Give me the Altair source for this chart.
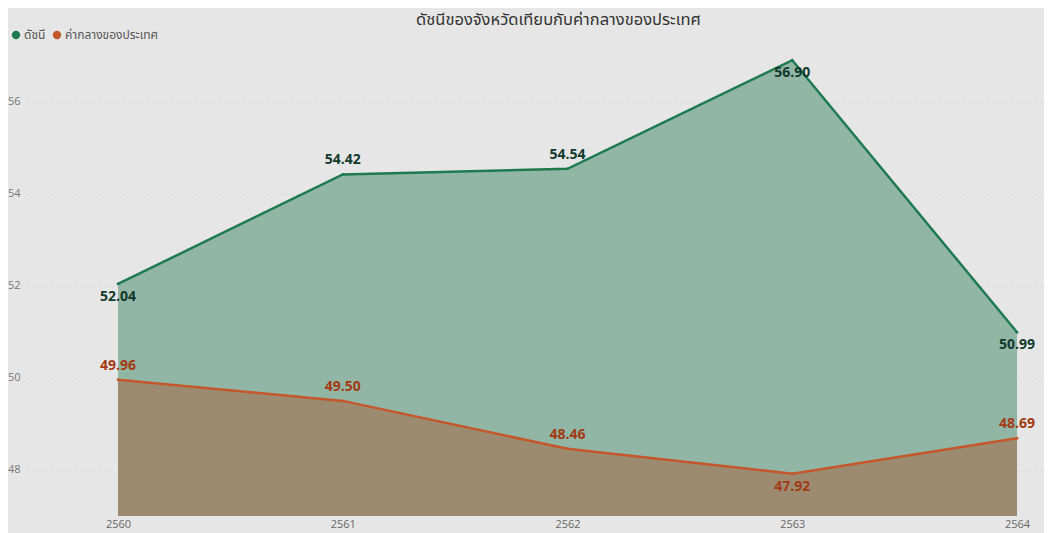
import altair as alt
import pandas as pd

years = [2560, 2561, 2562, 2563, 2564]
index_vals = [52.04, 54.42, 54.54, 56.90, 50.99]
national_vals = [49.96, 49.50, 48.46, 47.92, 48.69]
series_names = ["ดัชนี", "ค่ากลางของประเทศ"]
title_text = "ดัชนีของจังหวัดเทียบกับค่ากลางของประเทศ"
y_ticks = [48, 50, 52, 54, 56]

# label placement per point (layout only)
index_label_side = ["below", "above", "above", "below", "below"]
national_label_side = ["above", "above", "above", "below", "above"]

BASE = 47
GREEN = "#1f7a50"
ORANGE = "#c4572b"
GREEN_FILL = "#92b6a6"
ORANGE_FILL = "#9c8b71"
BG = "#e6e6e6"
FONT = "Segoe UI, Open Sans, Noto Sans Thai, Noto Sans, sans-serif"

rows = []
for i, yr in enumerate(years):
    rows.append({"year": yr, "value": index_vals[i], "series": series_names[0],
                 "side": index_label_side[i], "base": BASE})
    rows.append({"year": yr, "value": national_vals[i], "series": series_names[1],
                 "side": national_label_side[i], "base": BASE})
df = pd.DataFrame(rows)

xs = alt.Scale(domain=[2559.595, 2564.12], nice=False, zero=False)
ys = alt.Scale(domain=[47, 57.1], nice=False, zero=False)
color = alt.Scale(domain=series_names, range=[GREEN, ORANGE])

X = alt.X("year:Q", scale=xs, title=None,
          axis=alt.Axis(values=years, format="d", grid=False, ticks=False, domain=False,
                        labelPadding=2, labelFontSize=11, labelColor="#666", labelFont=FONT))
Y = alt.Y("value:Q", scale=ys, title=None,
          axis=alt.Axis(values=y_ticks, ticks=False, domain=False, grid=True,
                        gridDash=[1, 5], gridColor="#c4c4c4", gridWidth=1,
                        labelPadding=7, labelFontSize=11, labelColor="#777", labelFont=FONT))

base = alt.Chart(df)

area_g = base.transform_filter(alt.datum.series == series_names[0]).mark_area(
    color=GREEN_FILL, opacity=1).encode(x=X, y=Y, y2="base:Q")
area_o = base.transform_filter(alt.datum.series == series_names[1]).mark_area(
    color=ORANGE_FILL, opacity=1).encode(x=X, y=Y, y2="base:Q")

lines = base.mark_line(strokeWidth=2.5).encode(
    x=X, y=Y, color=alt.Color("series:N", scale=color, legend=None), detail="series:N")

pts = base.mark_point(filled=True, size=8, opacity=1).encode(
    x=X, y=Y,
    color=alt.Color("series:N", scale=color, sort=series_names,
                    legend=alt.Legend(title=None, orient="none", direction="horizontal",
                                      legendX=-17, legendY=-22, symbolType="circle",
                                      symbolSize=70, labelFontSize=12, labelColor="#555",
                                      labelFont=FONT, columnPadding=5, labelOffset=2)))

lab_color = alt.Scale(domain=series_names, range=["#123a2c", "#a33a12"])

def labels(side, dy):
    return base.transform_filter(alt.datum.side == side).mark_text(
        fontSize=14, fontWeight="bold", font=FONT, dy=dy, baseline="middle"
    ).encode(x=X, y=Y, text=alt.Text("value:Q", format=".2f"),
             color=alt.Color("series:N", scale=lab_color, legend=None))

chart = alt.layer(area_g, area_o, lines, pts, labels("above", -14), labels("below", 13)).resolve_scale(
    color="independent"
).properties(
    width=1017, height=465,
    title=alt.TitleParams(title_text, anchor="middle", dx=23, offset=1, fontSize=16.5,
                          fontWeight="normal", color="#333", font=FONT),
    autosize=alt.AutoSizeParams(type="none"),
    padding={"left": 19, "top": 43, "right": 0, "bottom": 17},
).configure(background=BG).configure_view(stroke=None, fill=BG)

chart.save("out.html", embed_options={"renderer": "svg", "actions": False})
